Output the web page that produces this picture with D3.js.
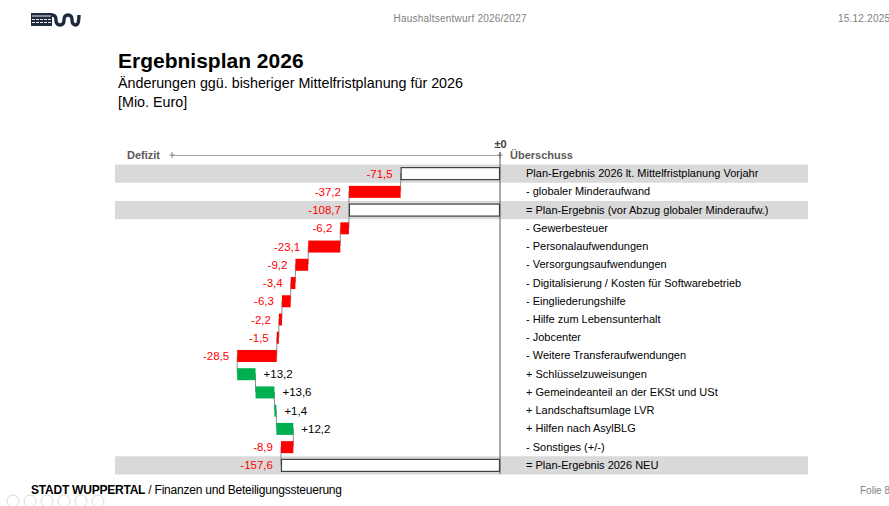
<!DOCTYPE html>
<html><head><meta charset="utf-8">
<script src="https://cdn.jsdelivr.net/npm/d3@7"></script>
<style>
html,body{margin:0;padding:0;background:#fff;}
svg{display:block;}
</style></head>
<body>
<script>
const categories = [
  "Plan-Ergebnis 2026 lt. Mittelfristplanung Vorjahr",
  "- globaler Minderaufwand",
  "= Plan-Ergebnis (vor Abzug globaler Minderaufw.)",
  "- Gewerbesteuer",
  "- Personalaufwendungen",
  "- Versorgungsaufwendungen",
  "- Digitalisierung / Kosten für Softwarebetrieb",
  "- Eingliederungshilfe",
  "- Hilfe zum Lebensunterhalt",
  "- Jobcenter",
  "- Weitere Transferaufwendungen",
  "+ Schlüsselzuweisungen",
  "+ Gemeindeanteil an der EKSt und USt",
  "+ Landschaftsumlage LVR",
  "+ Hilfen nach AsylBLG",
  "- Sonstiges (+/-)",
  "= Plan-Ergebnis 2026 NEU"
];
const values = [-71.5, -37.2, -108.7, -6.2, -23.1, -9.2, -3.4, -6.3, -2.2, -1.5, -28.5, 13.2, 13.6, 1.4, 12.2, -8.9, -157.6];
const isTotal = [true, false, true, false, false, false, false, false, false, false, false, false, false, false, false, false, true];
const xDomain = [-236, 0];
const zeroTickLabel = "±0";

const W = 889, H = 506;
const svg = d3.select("body").append("svg").attr("width", W).attr("height", H)
  .style("font-family", "'Liberation Sans', Arial, sans-serif");

// header logo
const logo = svg.append("g").attr("transform", "translate(31,12)");
logo.append("rect").attr("x",0).attr("y",1).attr("width",21).attr("height",13).attr("fill","#1f2a3d");
[4,7.5,10.5].forEach((yy,k)=>logo.append("line").attr("x1",1).attr("x2",20).attr("y1",yy).attr("y2",yy).attr("stroke","#fff").attr("stroke-width",0.9).attr("stroke-dasharray", k>0?"3,1":null));
logo.append("path").attr("d","M21,3 Q25,3 25,8 Q25,13 29,13 Q33,13 33,8 Q33,3 37,3 Q41,3 41,8 Q41,13 45,13 Q48,13 48,3")
  .attr("fill","none").attr("stroke","#1f2a3d").attr("stroke-width",3.4);

svg.append("text").attr("x", 460).attr("y", 22).attr("text-anchor","middle")
  .attr("font-size", 10).attr("fill","#808080").attr("textLength",133)
  .text("Haushaltsentwurf 2026/2027");
svg.append("text").attr("x", 838).attr("y", 22)
  .attr("font-size", 10).attr("fill","#808080").attr("textLength",52)
  .text("15.12.2025");

// titles
svg.append("text").attr("x",118).attr("y",68).attr("font-size",21).attr("font-weight","bold").attr("fill","#000")
  .text("Ergebnisplan 2026");
svg.append("text").attr("x",118).attr("y",88).attr("font-size",14.3).attr("fill","#000")
  .text("Änderungen ggü. bisheriger Mittelfristplanung für 2026");
svg.append("text").attr("x",118).attr("y",107).attr("font-size",14.3).attr("fill","#000")
  .text("[Mio. Euro]");

// scales
const x = d3.scaleLinear().domain(xDomain).range([172, 500]);
const y = d3.scaleBand().domain(categories).range([164, 474]).padding(0);
const bh = 12;
const bandX0 = 115, bandX1 = 808;

// waterfall computations
let run = 0;
const rows = categories.map((c, i) => {
  let start, end;
  if (isTotal[i]) { start = 0; end = values[i]; run = values[i]; }
  else { start = run; end = run + values[i]; run = end; }
  return {c, v: values[i], start, end, total: isTotal[i]};
});

// gray bands for totals
svg.append("g").selectAll("rect").data(rows.filter(d => d.total)).join("rect")
  .attr("x", bandX0).attr("width", bandX1 - bandX0)
  .attr("y", d => y(d.c) + 0.5).attr("height", y.bandwidth())
  .attr("fill", "#d9d9d9");

// axis
const axisG = svg.append("g").attr("transform", "translate(0,155)")
  .call(d3.axisTop(x).tickValues([0]).tickFormat(() => zeroTickLabel).tickSizeInner(0).tickSizeOuter(0));
axisG.select(".domain").attr("stroke", "#a6a6a6").attr("stroke-width", 1);
axisG.selectAll(".tick text").attr("font-size", 11).attr("font-weight","bold").attr("fill","#404040")
  .attr("font-family","'Liberation Sans', Arial, sans-serif").attr("dy", "-0.3em").attr("y", -4);
axisG.selectAll(".tick line").remove();
[xDomain[0], xDomain[1]].forEach(v => {
  axisG.append("line").attr("x1", x(v)).attr("x2", x(v)).attr("y1", -3).attr("y2", 3).attr("stroke", "#808080");
  axisG.append("line").attr("x1", x(v)-2.5).attr("x2", x(v)+2.5).attr("y1", 0).attr("y2", 0).attr("stroke", "#808080");
});

svg.append("text").attr("x",127).attr("y",159).attr("font-size",11).attr("font-weight","bold").attr("fill","#595959").text("Defizit");
svg.append("text").attr("x",510).attr("y",159).attr("font-size",11).attr("font-weight","bold").attr("fill","#595959").text("Überschuss");

// zero line
svg.append("line").attr("x1", x(0)).attr("x2", x(0)).attr("y1", 152).attr("y2", 474)
  .attr("stroke", "#595959").attr("stroke-width", 1);

// connectors
const conn = [];
for (let i = 1; i < rows.length; i++) {
  conn.push({xv: rows[i-1].end, y1: y(rows[i-1].c) + y.bandwidth()/2, y2: y(rows[i].c) + y.bandwidth()/2});
}
svg.append("g").selectAll("line").data(conn).join("line")
  .attr("x1", d => x(d.xv)).attr("x2", d => x(d.xv))
  .attr("y1", d => d.y1).attr("y2", d => d.y2)
  .attr("stroke", "#8c8c8c").attr("stroke-width", 1);

// bars
svg.append("g").selectAll("rect").data(rows).join("rect")
  .attr("x", d => x(Math.min(d.start, d.end)) + (d.total ? 0.5 : 0))
  .attr("width", d => Math.abs(x(d.end) - x(d.start)) - (d.total ? 1 : 0))
  .attr("y", d => y(d.c) + (y.bandwidth() - bh) / 2 + 0.5)
  .attr("height", bh)
  .attr("fill", d => d.total ? "#fff" : (d.v < 0 ? "#ff0000" : "#00b050"))
  .attr("stroke", d => d.total ? "#404040" : "none")
  .attr("stroke-width", 1.2);

// value labels
const fmt = v => ((v > 0 ? "+" : "") + d3.format(".1f")(v)).replace(".", ",").replace("\u2212", "-");
svg.append("g").selectAll("text").data(rows).join("text")
  .attr("x", d => d.v < 0 ? x(Math.min(d.start, d.end)) - 8 : x(d.end) + 8)
  .attr("y", d => y(d.c) + y.bandwidth() / 2 + 4.5)
  .attr("text-anchor", d => d.v < 0 ? "end" : "start")
  .attr("font-size", 11.5)
  .attr("fill", d => d.v < 0 ? "#ff0000" : "#000")
  .text(d => fmt(d.v));

// category labels
svg.append("g").selectAll("text").data(rows).join("text")
  .attr("x", 526)
  .attr("y", d => y(d.c) + y.bandwidth() / 2 + 4)
  .attr("font-size", 11).attr("fill", "#000")
  .text(d => d.c);

// footer
const ft = svg.append("text").attr("x",31).attr("y",494).attr("font-size",12).attr("fill","#000").attr("textLength",311);
ft.append("tspan").attr("font-weight","bold").text("STADT WUPPERTAL");
ft.append("tspan").text(" / Finanzen und Beteiligungssteuerung");
svg.append("text").attr("x",860).attr("y",494).attr("font-size",10).attr("fill","#808080").text("Folie 8");
const nav = svg.append("g").attr("opacity",0.35);
[0,1,2,3,4,5].forEach(i => nav.append("circle").attr("cx", 13 + i*17).attr("cy", 501).attr("r", 6).attr("fill","none").attr("stroke","#999"));
</script>
</body></html>
